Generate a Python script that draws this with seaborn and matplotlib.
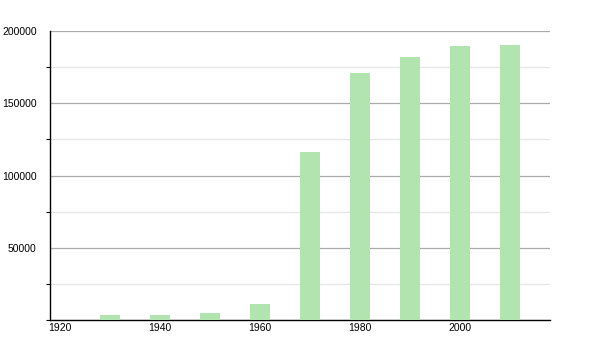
import matplotlib
matplotlib.use("Agg")
import matplotlib.pyplot as plt
import seaborn as sns
import pandas as pd
from matplotlib.ticker import MultipleLocator

years = [1930, 1940, 1950, 1960, 1970, 1980, 1990, 2000, 2010]
population = [3700, 3700, 4800, 11000, 116200, 170700, 181800, 189600, 190300]
xticks = [1920, 1940, 1960, 1980, 2000]

sns.set_theme(style="white")
plt.rcParams['font.family'] = ['Liberation Sans', 'DejaVu Sans']

df = pd.DataFrame({"year": years, "population": population})

fig = plt.figure(figsize=(6, 3.5), dpi=100)
ax = fig.add_axes([50/600, 30/350, 500/600, 289/350])

sns.barplot(data=df, x="year", y="population", native_scale=True,
            color="#b2e4b0", saturation=1, width=0.42, ax=ax, zorder=3,
            linewidth=0, edgecolor="none")

ax.set_xlim(1918, 2018)
ax.set_ylim(0, 200000)
ax.yaxis.set_minor_locator(MultipleLocator(25000))
ax.set_xticks(xticks)
ax.set_xticklabels([str(x) for x in xticks])
ax.set_yticks([50000, 100000, 150000, 200000])
ax.set_yticklabels(["50000", "100000", "150000", "200000"])

ax.grid(which="major", axis="y", color="#aaaaaa", linewidth=0.9, zorder=0)
ax.grid(which="minor", axis="y", color="#e6e6e6", linewidth=0.9, zorder=0)
ax.set_axisbelow(True)

for s in ["top", "right"]:
    ax.spines[s].set_visible(False)
for s in ["left", "bottom"]:
    ax.spines[s].set_color("black")
    ax.spines[s].set_linewidth(1.0)

ax.tick_params(axis="y", which="major", length=0, pad=9.5, labelsize=7.5, colors="black")
ax.tick_params(axis="y", which="minor", length=3, width=0.8, color="black", left=True)
ax.tick_params(axis="x", which="major", length=0, pad=2, labelsize=7.5, colors="black")
ax.set_xlabel("")
ax.set_ylabel("")

fig.savefig("out.png", dpi=100, facecolor="white")
